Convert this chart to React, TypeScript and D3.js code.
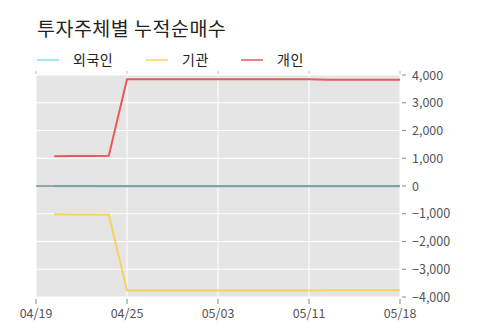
import React from "react";
import * as d3 from "d3";

// Trading-day labels along the x axis (every fifth session)
const tickLabels = ["04/19", "04/25", "05/03", "05/11", "05/18"];
const ticksEvery = 5;
const sessionCount = 21; // sessions 0..20

// Cumulative net buying per investor type, sessions 1..20
const sessions = d3.range(1, 21);
const foreign = [-10, -10, -12, -15, -20, -20, -20, -20, -20, -20, -20, -20, -20, -20, -20, -15, -15, -15, -15, -15];
const institution = [-1020, -1025, -1030, -1040, -3770, -3770, -3770, -3770, -3770, -3770, -3770, -3770, -3770, -3770, -3770, -3760, -3760, -3760, -3760, -3760];
const individual = [1075, 1078, 1082, 1090, 3850, 3850, 3850, 3850, 3850, 3850, 3850, 3850, 3850, 3850, 3848, 3825, 3825, 3825, 3825, 3825];

const yTicks = [4000, 3000, 2000, 1000, 0, -1000, -2000, -3000, -4000];

const seriesList = [
  { name: "외국인", values: foreign, color: "#7fe3e3" },
  { name: "기관", values: institution, color: "#f7d35a" },
  { name: "개인", values: individual, color: "#e8595a" },
];

const W = 500;
const H = 323;
const plot = { left: 36, right: 400, top: 75, bottom: 297 };
const FONT = "'Noto Sans CJK KR', 'Noto Sans', sans-serif";

export default function App() {
  const x = d3.scaleLinear().domain([0, sessionCount - 1]).range([plot.left, plot.right]);
  const y = d3.scaleLinear().domain([-4000, 4000]).range([plot.bottom, plot.top]);
  const fmt = d3.format(",");

  const line = (vals: number[]) =>
    d3.line<number>()
      .x((_, i) => x(sessions[i]))
      .y((v) => y(v))(vals) || "";

  const xTickPos = tickLabels.map((_, i) => i * ticksEvery);

  return (
    <svg width={W} height={H} style={{ position: "absolute", left: 0, top: 0, fontFamily: FONT }}>
      <rect width={W} height={H} fill="#ffffff" />
      <text x={37} y={36} fontSize={19.5} fill="#222" letterSpacing={0.5}>투자주체별 누적순매수</text>

      {/* legend */}
      {seriesList.map((s, i) => {
        const lx = [37, 146, 241][i];
        return (
          <g key={s.name}>
            <line x1={lx} x2={lx + 22} y1={60} y2={60} stroke={s.color} strokeWidth={1.5} />
            <text x={lx + 36} y={65} fontSize={14} fill="#222" letterSpacing={0.5}>{s.name}</text>
          </g>
        );
      })}

      {/* plot background and grid */}
      <rect x={plot.left} y={plot.top} width={plot.right - plot.left} height={plot.bottom - plot.top} fill="#e5e5e5" />
      {yTicks.map((t) => (
        <line key={t} x1={plot.left} x2={plot.right} y1={y(t)} y2={y(t)} stroke="#ffffff" strokeWidth={1} />
      ))}
      {xTickPos.map((p) => (
        <line key={p} x1={x(p)} x2={x(p)} y1={plot.top} y2={plot.bottom} stroke="#ffffff" strokeWidth={1} />
      ))}

      {/* series */}
      {seriesList.map((s) => (
        <path key={s.name} d={line(s.values)} fill="none" stroke={s.color} strokeWidth={2} />
      ))}

      {/* zero reference */}
      <line x1={plot.left} x2={plot.right} y1={y(0)} y2={y(0)} stroke="#7d8a8a" strokeWidth={1.5} />

      {/* right axis */}
      {yTicks.map((t) => (
        <g key={t}>
          <line x1={plot.right + 2} x2={plot.right + 6} y1={y(t)} y2={y(t)} stroke="#888" />
          <text x={plot.right + 12} y={y(t) + 4.5} fontSize={12.5} fill="#555">{fmt(t)}</text>
        </g>
      ))}

      {/* bottom and top axis ticks */}
      {xTickPos.map((p, i) => (
        <g key={p}>
          <line x1={x(p)} x2={x(p)} y1={plot.bottom + 2} y2={plot.bottom + 7} stroke="#888" />
          <line x1={x(p)} x2={x(p)} y1={plot.top - 4} y2={plot.top - 1} stroke="#bbb" />
          <text x={x(p)} y={318} fontSize={12.5} fill="#555" textAnchor="middle">{tickLabels[i]}</text>
        </g>
      ))}
    </svg>
  );
}
